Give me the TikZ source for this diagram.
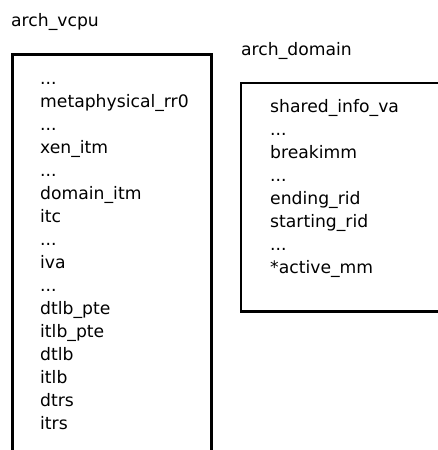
\documentclass[tikz,border=0pt]{standalone}
\usepackage{fontspec}
\setmainfont{DejaVu Sans}
\newcommand\elided{...}
\begin{document}
\begin{tikzpicture}[x=1pt,y=-1pt,
  box/.style={draw=black,line width=2.6pt},
  field/.style={anchor=base west,inner sep=0pt,font=\fontsize{17.2}{20}\selectfont},
  title/.style={anchor=base west,inner sep=0pt,font=\fontsize{17.2}{20}\selectfont}]
\useasboundingbox (0,0) rectangle (438,450);
\begin{scope}
\clip (0,0) rectangle (438,450);
% structure outlines (bottom of the vcpu box and right of the domain box run off the page)
\draw[box] (12.5,470) -- (12.5,54.5) -- (211.5,54.5) -- (211.5,470);
\draw[box] (460,83) -- (241,83) -- (241,311.5) -- (460,311.5);
\end{scope}
% headings
\node[title] (vcpu) at (11,26) {arch\_vcpu};
\node[title] (dom) at (241,55) {arch\_domain};
% arch_vcpu fields
\foreach \t [count=\i from 0] in {\elided,metaphysical\_rr0,\elided,xen\_itm,\elided,domain\_itm,itc,\elided,iva,\elided,dtlb\_pte,itlb\_pte,dtlb,itlb,dtrs,itrs}
  \node[field] (v\i) at (40,84+23*\i) {\t};
% arch_domain fields
\foreach \t [count=\i from 0] in {shared\_info\_va,\elided,breakimm,\elided,ending\_rid,starting\_rid,\elided,*active\_mm}
  \node[field] (d\i) at (270,112+23*\i) {\t};
\end{tikzpicture}
\end{document}
